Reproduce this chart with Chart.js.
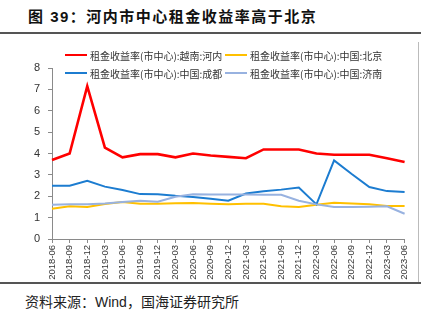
<!DOCTYPE html>
<html>
<head>
<meta charset="utf-8">
<script src="https://cdn.jsdelivr.net/npm/chart.js@4.4.1/dist/chart.umd.min.js"></script>
<style>
  html, body { margin: 0; padding: 0; background: #fff; }
  body { width: 432px; height: 322px; position: relative; overflow: hidden; font-family: "Liberation Sans", "Noto Sans CJK SC", sans-serif; }
  #title { position: absolute; left: 28px; top: 5px; font: bold 15px "Liberation Sans", "Noto Sans CJK SC"; letter-spacing: 1.5px; color: #111; white-space: nowrap; }
  .rule { position: absolute; left: 0; width: 421px; height: 2px; background: #555; }
  #frame { position: absolute; left: 418px; top: 42px; width: 1px; height: 240px; background: #bbb; }
  #wrap { position: absolute; left: 0; top: 40px; width: 418px; height: 242px; }
  #legend { position: absolute; left: 65px; top: 47px; display: grid; grid-template-columns: 160px 160px; row-gap: 2px; }
  .item { display: flex; align-items: center; height: 16px; font: 10px "Noto Sans CJK SC"; color: #333; white-space: nowrap; }
  .swatch { width: 22px; height: 2px; margin-right: 3px; }
  #source { position: absolute; left: 25px; top: 291px; font: 14px "Liberation Sans", "Noto Sans CJK SC"; color: #222; white-space: nowrap; }
</style>
</head>
<body>
<div id="title">图 39：河内市中心租金收益率高于北京</div>
<div class="rule" style="top:32px"></div>
<div id="wrap"><canvas id="rentChart"></canvas></div>
<div id="frame"></div>
<div id="legend"></div>
<div class="rule" style="top:282px"></div>
<div id="source">资料来源：Wind，国海证券研究所</div>
<script>
const quarters = ['2018-06', '2018-09', '2018-12', '2019-03', '2019-06', '2019-09', '2019-12',
  '2020-03', '2020-06', '2020-09', '2020-12', '2021-03', '2021-06', '2021-09', '2021-12',
  '2022-03', '2022-06', '2022-09', '2022-12', '2023-03', '2023-06'];

// rental yield, city centre (%)
const hanoi   = [3.70, 4.00, 7.15, 4.28, 3.82, 3.97, 3.97, 3.82, 4.00, 3.91, 3.84, 3.78, 4.19, 4.19, 4.19, 4.00, 3.94, 3.94, 3.94, 3.78, 3.60];
const beijing = [1.42, 1.53, 1.50, 1.64, 1.73, 1.65, 1.65, 1.67, 1.68, 1.65, 1.62, 1.65, 1.65, 1.53, 1.50, 1.60, 1.70, 1.66, 1.62, 1.54, 1.54];
const chengdu = [2.49, 2.49, 2.72, 2.45, 2.29, 2.10, 2.09, 2.02, 1.97, 1.88, 1.79, 2.13, 2.23, 2.31, 2.41, 1.62, 3.68, 3.04, 2.43, 2.24, 2.20];
const jinan   = [1.60, 1.63, 1.63, 1.66, 1.73, 1.79, 1.74, 1.98, 2.09, 2.08, 2.08, 2.08, 2.07, 2.07, 1.79, 1.62, 1.50, 1.50, 1.51, 1.53, 1.18];

const seriesNames = ['租金收益率(市中心):越南:河内', '租金收益率(市中心):中国:北京',
  '租金收益率(市中心):中国:成都', '租金收益率(市中心):中国:济南'];
const seriesColors = ['#ff0000', '#ffc000', '#1c7cd0', '#98b2e0'];
const seriesWidths = [2.6, 2, 2, 2];

const datasets = [hanoi, beijing, chengdu, jinan].map((vals, i) => ({
  label: seriesNames[i],
  data: vals,
  borderColor: seriesColors[i],
  backgroundColor: seriesColors[i],
  borderWidth: seriesWidths[i],
  pointRadius: 0,
  tension: 0,
  order: i === 0 ? 0 : 4 - i
}));

// legend sits over the top of the plot, two columns
const legendEl = document.getElementById('legend');
datasets.forEach(ds => {
  const item = document.createElement('div');
  item.className = 'item';
  item.innerHTML = '<span class="swatch" style="background:' + ds.borderColor + '"></span>' + ds.label;
  legendEl.appendChild(item);
});

const axisGrey = '#8a8a8a';
new Chart(document.getElementById('rentChart'), {
  type: 'line',
  data: { labels: quarters, datasets: datasets },
  options: {
    responsive: true,
    maintainAspectRatio: false,
    animation: false,
    layout: { padding: { top: 28, right: 10, bottom: 1, left: 0 } },
    plugins: { legend: { display: false }, tooltip: { enabled: false } },
    scales: {
      x: {
        offset: false,
        grid: { display: true, drawOnChartArea: false, drawTicks: true, tickLength: 4, color: axisGrey },
        border: { display: true, color: axisGrey },
        ticks: {
          autoSkip: false, maxRotation: 90, minRotation: 90, padding: 2,
          color: '#333', font: { family: 'Liberation Sans', size: 9.5 }
        },
        afterFit: s => { s.height = 42; }
      },
      y: {
        min: 0, max: 8,
        grid: { display: true, drawOnChartArea: false, drawTicks: true, tickLength: 4, color: axisGrey },
        border: { display: true, color: axisGrey },
        ticks: { stepSize: 1, padding: 8, color: '#333', font: { family: 'Liberation Sans', size: 11 } },
        afterFit: s => { s.width = 52; }
      }
    }
  }
});
</script>
</body>
</html>
